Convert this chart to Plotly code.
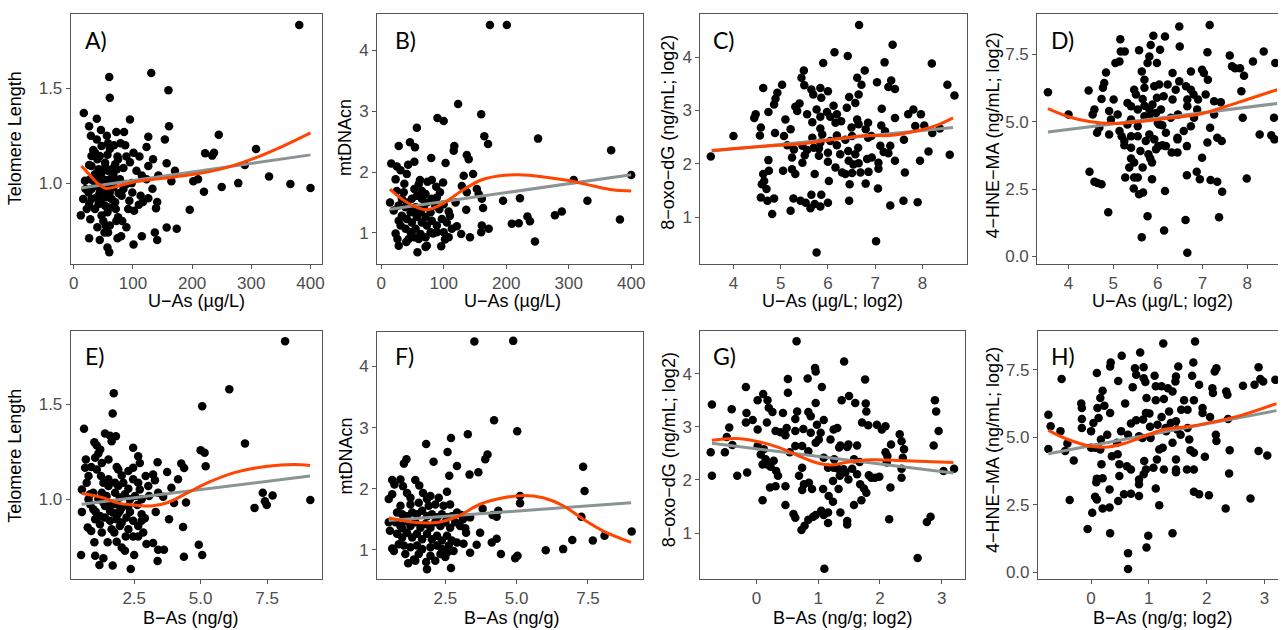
import plotly.graph_objects as go

W, H = 1281, 630

# ---------------- data ----------------
A_x = [381,131,60,61,160,17,39,95,161,26,
       46,72,85,29,56,245,126,154,39,58,
       87,123,308,68,33,101,36,222,237,234,
       111,89,57,40,134,74,157,289,95,26,
       70,106,84,171,126,115,123,143,165,202,
       210,330,278,366,400,250,220,133,99,76,
       113,126,94,141,117,110,139,196,92,102,
       12,22,28,75,72,82,89,54,40,157,
       174,58,137,115,80,26,44,141,74,101,
       57,60,52,
       30,42,47,53,58,64,67,73,36,28,
       33,42,50,56,61,70,78,19,39,47,
       57,67,30,25,44,53,61,39,47,56,
       64,30,42,53,61,70,36,57,47,81,
       84,89,98,75,53,44,61,47,79,30,
       16,20,26,71,50,61]
A_y = [1.834,1.58,1.56,1.45,1.49,1.37,1.34,1.335,1.30,1.30,
       1.28,1.27,1.27,1.25,1.25,1.255,1.245,1.23,1.23,1.21,
       1.20,1.19,1.18,1.20,1.175,1.16,1.16,1.157,1.16,1.145,
       1.14,1.14,1.15,1.126,1.126,1.14,1.105,1.096,1.11,1.095,
       1.10,1.065,1.08,1.065,1.09,1.04,1.02,1.04,1.01,1.01,
       1.02,1.035,1.0,0.995,0.974,0.98,0.955,0.97,0.95,0.946,
       0.934,0.92,0.907,0.90,0.90,0.886,0.867,0.86,0.864,0.855,
       0.83,0.864,0.81,0.82,0.80,0.80,0.767,0.776,0.767,0.766,
       0.76,0.74,0.74,0.72,0.72,0.71,0.70,0.70,0.71,0.677,
       0.66,0.636,0.74,
       1.09,1.073,1.056,1.082,1.065,1.073,1.047,1.073,1.047,1.02,
       1.012,1.02,1.02,1.012,1.02,1.012,1.02,1.012,0.986,0.986,
       0.986,0.977,0.969,0.951,0.951,0.96,0.951,0.925,0.916,0.925,
       0.916,0.916,0.89,0.881,0.872,0.899,0.864,0.846,0.829,0.934,
       0.969,0.995,1.0,1.126,1.108,1.143,1.18,1.196,1.21,1.143,
       0.916,0.969,0.89,0.864,0.80,0.776]

B_x = [174,201,123,90,100,160,57,165,251,171,
       46,28,54,117,116,368,137,140,80,53,
       103,16,25,43,31,41,147,132,400,23,
       308,62,81,37,129,99,60,74,88,25,
       153,156,137,161,195,222,330,14,119,100,
       163,136,49,68,93,108,289,278,234,382,
       238,209,220,121,113,161,172,160,100,128,
       108,142,102,246,96,40,28,73,58,71,
       23,83,
       33,41,49,57,65,73,81,39,47,55,
       63,71,79,33,41,49,57,65,73,81,
       89,31,39,47,55,63,71,79,53,44,
       28,20,28,36,53,65,71,89,94,86,
       97,105,110,89,60,52,68,26]
B_y = [4.42,4.42,3.12,2.89,2.84,2.95,2.73,2.59,2.55,2.46,
       2.49,2.43,2.41,2.43,2.35,2.36,2.28,2.21,2.23,2.17,
       2.15,2.14,2.09,2.12,2.03,1.97,1.97,1.94,1.95,1.88,
       1.87,1.87,1.87,1.81,1.77,1.83,1.80,1.84,1.76,1.69,
       1.72,1.64,1.67,1.56,1.53,1.57,1.53,1.50,1.50,1.47,
       1.41,1.38,1.39,1.42,1.39,1.35,1.35,1.29,1.27,1.22,
       1.19,1.15,1.16,1.11,1.07,1.12,1.07,1.01,1.01,0.98,
       0.93,0.93,0.89,0.86,0.78,0.85,0.79,0.79,0.68,0.77,
       0.99,0.99,
       1.56,1.50,1.56,1.61,1.56,1.50,1.56,1.42,1.34,1.42,
       1.34,1.26,1.34,1.28,1.23,1.17,1.26,1.17,1.12,1.20,
       1.12,1.12,1.07,1.01,1.07,0.98,0.93,1.01,0.93,0.90,
       1.20,1.37,1.45,1.67,1.72,1.69,1.64,1.58,1.67,1.45,
       1.23,1.17,1.28,1.01,0.90,1.34,1.42,0.90]

C_x = [3.52,4.0,6.66,6.14,6.42,7.37,5.9,7.2,8.2,5.49,
       6.78,5.44,6.62,7.34,7.04,8.53,5.03,5.5,4.63,5.65,
       5.84,6.71,7.28,7.42,6.0,5.69,6.65,8.68,4.93,5.86,
       6.45,4.89,5.40,6.58,4.86,6.12,5.31,5.76,7.14,6.4,
       7.81,4.74,5.35,7.7,7.97,5.56,5.98,6.05,5.84,6.19,
       4.47,4.44,7.42,5.1,6.62,6.28,5.67,6.16,6.85,7.13,
       6.65,7.85,8.04,4.58,5.21,5.84,6.5,6.8,8.37,8.21,
       7.21,4.88,4.56,5.88,6.19,6.51,5.07,6.92,5.67,6.85,
       6.37,7.61,6.05,5.84,5.14,6.19,5.46,7.11,7.32,5.7,
       6.64,5.28,5.56,5.81,6.43,7.18,8.13,6.0,6.58,6.26,
       7.28,8.58,5.51,5.81,5.24,6.93,6.83,4.74,6.44,6.0,
       7.07,7.42,7.95,5.46,6.54,6.65,5.05,4.75,5.24,6.16,
       7.07,5.31,4.63,5.72,6.37,6.51,6.69,6.02,6.3,6.86,
       7.63,4.65,6.46,6.8,4.6,4.7,7.06,4.58,4.86,4.72,
       5.27,5.42,5.65,5.86,6.45,7.6,7.9,5.53,5.72,6.0,
       5.63,5.84,7.32,5.21,4.82,7.02,5.76]
C_y = [2.14,2.52,4.6,4.09,4.02,4.23,3.89,3.90,3.88,3.75,
       3.75,3.61,3.61,3.56,3.53,3.48,3.48,3.47,3.42,3.39,
       3.42,3.48,3.44,3.40,3.36,3.30,3.30,3.28,3.33,3.24,
       3.25,3.22,3.13,3.14,3.11,3.09,3.07,3.02,3.03,3.05,
       3.02,2.97,2.99,2.93,2.93,2.93,2.97,2.88,2.88,2.93,
       2.93,2.86,2.86,2.83,2.83,2.80,2.78,2.77,2.77,2.72,
       2.74,2.71,2.72,2.68,2.65,2.66,2.68,2.65,2.66,2.58,
       2.61,2.58,2.53,2.55,2.53,2.52,2.52,2.52,2.49,2.49,
       2.45,2.45,2.43,2.40,2.35,2.35,2.34,2.34,2.34,2.30,
       2.30,2.27,2.26,2.29,2.24,2.22,2.23,2.21,2.18,2.18,
       2.20,2.17,2.16,2.15,2.12,2.12,2.09,2.07,2.06,2.04,
       2.02,2.06,2.06,2.02,1.99,2.01,1.87,1.87,1.90,1.93,
       1.91,1.81,1.81,1.81,1.81,1.83,1.84,1.68,1.84,1.85,
       1.84,1.68,1.62,1.63,1.62,1.53,1.54,1.37,1.35,1.31,
       1.35,1.31,1.42,1.42,1.31,1.31,1.28,1.27,1.25,1.27,
       1.17,1.20,1.22,1.12,1.06,0.55,0.34]

D_x = [3.54,4.0,4.45,5.16,5.14,5.05,5.26,5.17,5.58,5.81,
       5.77,5.98,5.9,6.16,6.48,7.16,5.84,6.49,6.05,7.11,
       7.61,8.37,8.63,8.13,7.66,7.73,7.84,7.93,6.99,7.03,
       6.74,7.12,6.33,6.22,5.64,5.7,4.84,4.8,4.77,6.48,
       6.63,5.47,5.51,6.03,6.4,5.98,6.74,6.8,7.87,7.07,
       4.74,5.01,5.32,5.66,6.33,6.66,6.9,7.26,7.41,4.58,
       4.91,5.1,5.7,5.81,5.4,4.54,6.07,5.81,6.45,7.26,
       7.9,8.6,6.81,6.1,4.69,5.14,5.32,5.55,6.03,6.74,
       4.64,4.91,6.18,6.44,7.17,5.19,5.25,5.73,6.44,7.33,
       7.43,8.28,8.54,8.61,7.11,6.01,6.1,6.65,5.25,5.4,
       5.96,6.31,6.44,5.61,5.79,5.83,6.99,5.4,5.47,5.87,
       5.36,5.66,4.47,4.58,4.65,4.74,5.27,5.47,5.55,6.65,
       6.87,6.94,7.18,7.33,7.99,5.87,5.46,5.58,5.67,6.16,
       7.44,4.89,5.77,7.37,6.62,6.14,5.64,6.66,5.4,5.96,
       5.55,5.88,6.0,5.55,4.95,6.29,6.66,6.88,5.4,6.18,
       5.92,5.81,5.7,6.58,6.13,5.92,5.7]
D_y = [6.09,5.26,6.15,8.05,7.23,7.17,7.6,7.6,7.64,7.41,
       7.17,7.17,8.18,8.15,8.52,8.58,7.84,7.78,7.66,7.57,
       7.45,7.6,7.17,7.23,7.05,6.98,6.98,6.7,6.92,6.8,
       6.86,6.55,6.8,6.37,6.86,6.55,6.82,6.43,6.25,6.49,
       6.31,6.18,6.0,6.37,6.18,5.88,6.18,6.0,6.12,6.0,
       5.84,5.82,5.69,5.84,5.82,5.82,5.82,5.75,5.72,5.45,
       5.39,5.26,5.59,5.45,5.08,5.26,5.45,5.18,5.26,5.26,
       5.14,5.14,5.14,4.86,4.77,4.65,4.89,4.83,4.89,4.83,
       4.59,4.52,4.59,4.4,4.77,4.46,4.28,4.28,4.34,4.4,
       4.28,4.52,4.49,4.34,4.22,4.09,4.12,4.09,4.12,4.03,
       3.97,3.85,3.85,3.91,3.79,3.63,3.66,3.63,3.48,3.48,
       3.3,3.3,3.14,2.77,2.72,2.68,2.93,2.93,2.93,3.01,
       3.14,2.86,2.83,2.77,2.89,2.86,2.52,2.31,2.37,2.43,
       2.4,1.64,1.49,1.45,1.35,0.96,0.71,0.14,5.57,5.32,
       5.45,5.63,4.95,4.46,5.08,5.14,5.57,5.45,4.46,4.09,
       4.34,4.52,5.2,4.65,5.94,6.31,6.25]

E_x = [8.18,6.08,5.06,1.73,1.69,0.61,1.4,1.59,1.81,1.0,
       1.65,6.67,1.09,2.46,1.22,5.0,5.15,1.15,2.65,1.03,
       0.68,2.71,4.27,1.84,5.19,0.88,1.9,4.38,0.65,3.38,
       2.93,3.74,3.21,1.25,2.03,2.46,4.15,3.28,2.65,1.78,
       0.53,3.9,1.53,2.28,3.4,3.59,3.06,0.84,0.96,7.34,
       7.71,4.0,4.45,7.42,7.49,7.03,9.13,2.62,1.34,1.65,
       2.03,2.34,0.53,3.31,1.05,1.9,2.78,2.9,3.81,4.34,
       1.03,0.75,0.88,1.21,2.03,1.75,2.65,2.46,2.65,2.18,
       1.0,1.5,1.84,2.96,3.21,4.93,2.03,3.4,3.62,2.15,
       0.5,1.03,2.5,5.06,4.37,1.34,3.38,1.19,1.69,2.37,
       1.28,1.46,1.15,1.4,1.59,1.78,1.96,2.15,2.34,2.53,
       2.78,0.84,0.96,1.21,1.4,1.59,1.84,2.21,2.46,2.78,
       1.71,1.96,1.84,2.28,1.53,1.34,1.9,2.09,2.28,2.46,
       1.09,1.28,1.53,2.71,3.03,0.71,0.78,1.96,1.65,2.28,
       2.84,1.28,1.5,0.78]
E_y = [1.83,1.578,1.488,1.557,1.45,1.37,1.345,1.334,1.331,1.30,
       1.305,1.293,1.282,1.27,1.261,1.258,1.244,1.24,1.226,1.218,
       1.209,1.19,1.188,1.17,1.174,1.17,1.157,1.164,1.166,1.195,
       1.122,1.143,1.13,1.122,1.125,1.105,1.105,1.10,1.087,1.087,
       1.052,1.061,1.07,1.056,1.035,1.014,1.017,1.026,1.035,1.035,
       1.02,0.98,0.983,0.99,0.97,0.955,0.996,0.97,0.983,0.974,
       0.956,0.934,0.934,0.934,0.934,0.927,0.922,0.9,0.895,0.855,
       0.895,0.852,0.834,0.869,0.878,0.826,0.86,0.805,0.805,0.805,
       0.774,0.774,0.777,0.765,0.77,0.761,0.747,0.735,0.735,0.73,
       0.707,0.704,0.707,0.707,0.699,0.69,0.676,0.655,0.652,0.634,
       1.035,1.017,1.0,0.965,0.939,1.035,1.009,1.026,1.0,1.017,
       1.0,0.974,0.948,0.913,0.904,0.887,0.895,0.904,0.887,0.887,
       0.93,0.939,0.974,0.965,1.105,1.087,1.07,1.087,1.148,1.166,
       1.157,1.19,1.209,1.052,1.07,1.087,1.122,0.86,0.843,0.843,
       0.826,0.826,0.974,1.0]

F_x = [3.52,4.88,4.21,5.02,3.29,2.7,1.83,2.58,3.98,3.9,
       1.14,1.05,2.09,2.91,7.33,3.66,3.35,2.64,0.93,0.64,
       1.45,0.72,1.59,1.02,2.56,7.38,1.16,1.72,0.64,5.12,
       1.98,2.27,1.28,5.12,0.52,2.67,3.81,1.92,4.36,7.27,
       4.16,4.3,3.06,3.37,0.52,0.56,0.99,3.72,3.23,9.03,
       8.08,6.95,7.67,4.3,4.13,3.6,3.14,0.64,0.7,4.45,
       3.37,6.02,6.63,5.03,4.95,1.2,1.4,1.45,1.83,2.15,
       1.86,2.7,2.56,2.5,
       0.81,0.99,1.16,1.34,1.51,1.69,1.86,2.03,2.21,2.38,
       2.56,2.73,0.76,0.93,1.1,1.28,1.45,1.63,1.8,1.98,
       2.15,2.33,2.5,2.67,2.85,3.02,0.81,0.99,1.16,1.34,
       1.51,1.69,1.86,2.03,2.21,2.38,2.56,2.73,2.91,0.87,
       1.05,1.28,1.51,1.69,1.98,2.21,2.38,2.62,2.79,1.1,
       1.57,1.98,2.33,0.93,1.28,1.57,1.86,2.15,2.44,2.91,
       3.12,3.2]
F_y = [4.41,4.42,3.12,2.94,2.89,2.83,2.73,2.60,2.56,2.48,
       2.48,2.41,2.44,2.37,2.36,2.27,2.23,2.21,2.15,2.14,
       2.14,2.07,2.05,2.04,1.95,1.96,1.93,1.93,1.91,1.88,
       1.88,1.85,1.85,1.76,1.83,1.74,1.67,1.72,1.64,1.54,
       1.57,1.54,1.57,1.53,1.45,1.31,1.35,1.28,1.28,1.30,
       1.23,1.16,1.15,1.18,1.12,1.08,1.10,1.02,0.98,0.93,
       0.95,0.99,1.01,0.90,0.86,0.78,0.84,0.82,0.80,0.82,
       0.68,0.70,0.95,0.88,
       1.61,1.58,1.55,1.61,1.58,1.64,1.55,1.58,1.53,1.58,
       1.53,1.55,1.45,1.39,1.47,1.39,1.45,1.36,1.42,1.36,
       1.45,1.39,1.45,1.36,1.45,1.39,1.26,1.2,1.28,1.2,
       1.26,1.17,1.26,1.17,1.23,1.15,1.23,1.15,1.12,1.09,
       1.07,1.04,1.07,1.01,1.04,1.07,1.01,1.07,0.98,0.93,
       0.93,0.90,0.93,1.72,1.74,1.77,1.83,1.74,1.72,1.61,
       1.50,1.35]

G_x = [0.65,1.42,0.95,0.96,0.51,0.83,1.76,-0.17,1.06,0.51,
       0.11,1.5,1.38,0.02,0.18,-0.72,1.6,2.89,0.96,1.77,
       2.91,0.2,0.26,-0.4,0.84,0.66,1.78,-0.16,0.43,0.88,
       1.09,-0.06,-0.17,1.71,1.81,0.17,0.63,0.98,1.95,2.09,
       2.03,-0.44,0.02,0.49,0.76,1.25,1.31,2.95,0.31,0.39,
       0.63,0.88,1.04,0.47,2.32,1.2,2.35,-0.48,1.01,0.96,
       2.87,1.36,1.49,1.63,2.18,0.63,0.74,0.02,-0.39,2.39,
       1.34,1.47,-0.74,-0.51,0.12,0.54,0.84,2.09,2.12,0.15,
       0.07,1.09,1.58,1.67,2.37,0.28,1.26,0.1,0.18,0.23,
       2.11,0.74,1.16,1.25,1.32,1.41,1.55,2.35,3.2,3.03,
       0.32,-0.15,1.44,1.63,1.82,-0.31,-0.72,0.35,0.69,1.35,
       1.86,1.92,1.99,2.35,1.49,0.85,1.24,0.77,1.68,0.31,
       0.47,2.17,0.22,0.9,0.74,1.08,1.33,1.74,1.78,1.17,
       0.1,1.7,1.24,1.58,0.47,1.05,1.16,1.36,0.6,0.63,
       0.96,0.92,1.09,0.84,2.15,2.82,2.76,0.78,0.73,1.47,
       1.47,1.16,2.61,1.1]
G_y = [4.61,4.23,4.11,4.04,3.9,3.91,3.89,3.75,3.75,3.64,
       3.62,3.58,3.5,3.5,3.5,3.42,3.45,3.5,3.45,3.44,
       3.29,3.36,3.28,3.33,3.28,3.29,3.29,3.26,3.26,3.2,
       3.13,3.13,3.08,3.08,3.03,3.08,3.15,3.04,3.04,3.01,
       2.95,2.99,2.95,2.98,2.96,2.95,2.98,2.92,2.92,2.9,
       2.92,2.89,2.89,2.84,2.86,2.76,2.73,2.81,2.76,2.7,
       2.65,2.65,2.67,2.65,2.67,2.64,2.64,2.64,2.66,2.58,
       2.61,2.62,2.52,2.52,2.58,2.52,2.54,2.52,2.45,2.39,
       2.48,2.42,2.39,2.34,2.42,2.36,2.39,2.29,2.29,2.25,
       2.33,2.23,2.23,2.23,2.21,2.2,2.21,2.21,2.21,2.17,
       2.17,2.14,2.14,2.11,2.09,2.08,2.08,2.08,2.08,2.08,
       2.04,2.04,2.06,2.04,2.01,1.95,1.98,1.92,1.92,1.88,
       1.88,1.86,1.86,1.83,1.81,1.83,1.83,1.84,1.76,1.7,
       1.62,1.62,1.59,1.53,1.53,1.42,1.39,1.39,1.36,1.29,
       1.34,1.31,1.34,1.25,1.26,1.31,1.21,1.14,1.06,1.23,
       1.16,1.19,0.53,0.33]

H_x = [1.8,1.25,0.85,0.53,0.34,0.33,1.77,-0.51,0.1,0.76,
       0.91,1.51,2.17,2.14,2.9,0.78,1.1,1.47,1.75,0.91,
       0.94,0.47,1.46,2.93,2.98,2.83,3.19,2.63,1.87,0.72,
       1.12,1.22,1.33,2.1,2.34,2.36,0.2,1.41,2.11,0.96,
       0.16,0.59,1.26,1.12,1.61,1.78,1.56,1.67,1.93,-0.17,
       -0.16,0.11,0.23,-0.74,0.33,0.95,1.01,1.35,1.93,1.22,
       2.06,2.37,-0.16,0.13,0.9,0.78,1.47,-0.7,-0.16,0.04,
       0.69,1.02,-0.53,0.0,0.52,0.64,0.28,2.16,2.17,0.83,
       1.3,1.49,1.55,1.7,0.17,0.45,1.03,0.89,-0.41,-0.74,
       -0.45,0.0,0.07,0.16,1.18,1.24,1.41,1.72,1.78,2.9,
       3.05,2.4,-0.3,0.36,0.46,0.49,1.14,1.47,1.97,0.92,
       0.18,0.62,0.69,0.95,1.08,1.26,1.47,1.66,1.78,1.47,
       0.49,0.1,0.2,0.83,0.91,2.39,0.09,0.83,1.12,0.32,
       0.57,0.69,0.83,1.78,1.87,2.04,0.07,0.1,-0.37,0.47,
       0.2,0.32,1.18,2.76,2.33,0.02,-0.06,0.33,1.41,0.99,
       0.96,0.64,0.64,1.29,1.38,1.15,1.67]
H_y = [8.55,8.48,8.14,8.02,7.77,7.62,7.77,7.16,7.38,7.56,
       7.6,7.62,7.56,7.44,7.6,7.32,7.28,7.25,7.28,7.19,
       7.05,7.09,7.07,7.16,7.07,6.95,7.13,6.91,6.95,6.86,
       6.89,6.89,6.82,6.82,6.7,6.58,6.73,6.7,6.64,6.46,
       6.46,6.25,6.42,6.37,6.37,6.37,6.02,6.02,6.09,6.25,
       6.09,6.09,6.17,5.84,5.9,5.9,5.88,5.96,5.9,5.75,
       5.75,5.68,5.68,5.72,5.66,5.63,5.6,5.41,5.35,5.53,
       5.51,5.39,5.23,5.23,5.23,5.1,5.1,5.1,4.86,5.04,
       5.23,5.29,5.1,4.92,4.92,4.8,4.98,4.98,4.77,4.57,
       4.49,4.61,4.61,4.55,4.55,4.61,4.8,4.52,4.43,4.49,
       4.33,4.52,4.14,4.3,4.37,4.0,4.18,4.18,4.28,4.12,
       4.0,3.93,3.81,3.81,3.87,3.81,3.81,3.81,3.81,3.71,
       3.57,3.47,3.48,3.44,3.63,3.66,3.34,3.26,3.1,3.07,
       2.89,2.91,2.83,2.98,2.89,2.85,2.8,2.7,2.68,2.64,
       2.36,2.4,2.48,2.73,2.36,2.21,1.6,1.45,1.45,1.35,
       0.92,0.71,0.12,5.35,5.53,5.47,5.35]

# fitted lines (linear, grey) and smooth fits (orange)
A_lin_x = [13, 400]; A_lin_y = [0.974, 1.149]
A_fit_x = [13, 25, 40, 55, 75, 100, 150, 200, 250, 300, 350, 400]
A_fit_y = [1.09, 1.05, 1.0, 0.972, 0.985, 1.005, 1.025, 1.045, 1.075, 1.125, 1.19, 1.265]
B_lin_x = [14, 400]; B_lin_y = [1.39, 1.955]
B_fit_x = [14, 30, 50, 73, 100, 130, 160, 190, 220, 260, 300, 340, 370, 400]
B_fit_y = [1.72, 1.58, 1.45, 1.38, 1.49, 1.70, 1.87, 1.94, 1.955, 1.92, 1.86, 1.77, 1.71, 1.69]
C_lin_x = [3.54, 8.65]; C_lin_y = [2.24, 2.68]
C_fit_x = [3.54, 4.5, 5.5, 6.3, 6.8, 7.3, 7.8, 8.3, 8.65]
C_fit_y = [2.25, 2.32, 2.38, 2.48, 2.53, 2.53, 2.6, 2.72, 2.86]
D_lin_x = [3.54, 8.67]; D_lin_y = [4.61, 5.67]
D_fit_x = [3.54, 4.0, 4.5, 5.0, 5.5, 6.0, 6.5, 7.0, 7.5, 8.0, 8.67]
D_fit_y = [5.48, 5.18, 4.99, 4.93, 4.98, 5.08, 5.17, 5.3, 5.55, 5.82, 6.18]
E_lin_x = [0.52, 9.12]; E_lin_y = [0.974, 1.122]
E_fit_x = [0.52, 1.28, 1.9, 2.52, 3.15, 3.77, 4.52, 5.27, 6.27, 7.52, 8.52, 9.12]
E_fit_y = [1.03, 1.01, 0.98, 0.97, 0.965, 0.983, 1.035, 1.087, 1.14, 1.174, 1.183, 1.178]
F_lin_x = [0.52, 9.01]; F_lin_y = [1.48, 1.77]
F_fit_x = [0.52, 1.4, 2.2, 2.9, 3.72, 4.53, 5.23, 5.93, 6.63, 7.33, 8.02, 9.01]
F_fit_y = [1.52, 1.45, 1.445, 1.54, 1.745, 1.85, 1.89, 1.85, 1.72, 1.5, 1.31, 1.12]
G_lin_x = [-0.72, 3.19]; G_lin_y = [2.69, 2.13]
G_fit_x = [-0.72, -0.33, -0.01, 0.37, 0.69, 0.96, 1.23, 1.44, 1.87, 2.41, 3.19]
G_fit_y = [2.75, 2.78, 2.73, 2.61, 2.45, 2.33, 2.28, 2.33, 2.38, 2.36, 2.33]
H_lin_x = [-0.74, 3.21]; H_lin_y = [4.39, 5.99]
H_fit_x = [-0.74, -0.4, 0.0, 0.29, 0.57, 0.92, 1.26, 1.72, 2.18, 2.64, 3.21]
H_fit_y = [5.26, 4.92, 4.67, 4.64, 4.77, 5.04, 5.29, 5.41, 5.6, 5.84, 6.25]

# tick values / labels
ticks_uas_x = [0, 100, 200, 300, 400]
ticks_log_uas_x = [4, 5, 6, 7, 8]
ticks_bas_x = [2.5, 5.0, 7.5]; ticks_bas_txt = ["2.5", "5.0", "7.5"]
ticks_log_bas_x = [0, 1, 2, 3]
ticks_tl_y = [1.0, 1.5]; ticks_tl_txt = ["1.0", "1.5"]
ticks_mt_y = [1, 2, 3, 4]
ticks_ox_y = [1, 2, 3, 4]
ticks_hne_y = [0.0, 2.5, 5.0, 7.5]; ticks_hne_txt = ["0.0", "2.5", "5.0", "7.5"]

panel_labels = ["A)", "B)", "C)", "D)", "E)", "F)", "G)", "H)"]
x_titles = ["U\u2212As (\u00b5g/L)", "U\u2212As (\u00b5g/L)", "U\u2212As (\u00b5g/L; log2)", "U\u2212As (\u00b5g/L; log2)",
            "B\u2212As (ng/g)", "B\u2212As (ng/g)", "B\u2212As (ng/g; log2)", "B\u2212As (ng/g; log2)"]
y_titles = ["Telomere Length", "mtDNAcn", "8\u2212oxo\u2212dG (ng/mL; log2)", "4\u2212HNE\u2212MA (ng/mL; log2)",
            "Telomere Length", "mtDNAcn", "8\u2212oxo\u2212dG (ng/mL; log2)", "4\u2212HNE\u2212MA (ng/mL; log2)"]

# ---------------- layout geometry (pixels) ----------------
panels = [
    dict(x=A_x, y=A_y, lx=A_lin_x, ly=A_lin_y, fx=A_fit_x, fy=A_fit_y, px=(69, 321), py=(14, 265),
         xr=(-5.06, 419), yr=(0.575, 1.892), xt=ticks_uas_x, xtt=[str(v) for v in ticks_uas_x],
         yt=ticks_tl_y, ytt=ticks_tl_txt, ytc=(13, 139), xtc=(195, 302), lab=(81, 24), clip=False),
    dict(x=B_x, y=B_y, lx=B_lin_x, ly=B_lin_y, fx=B_fit_x, fy=B_fit_y, px=(376.7, 643.3), py=(14, 265),
         xr=(-6.4, 418.6), yr=(0.493, 4.6), xt=ticks_uas_x, xtt=[str(v) for v in ticks_uas_x],
         yt=ticks_mt_y, ytt=[str(v) for v in ticks_mt_y], ytc=(345, 138), xtc=(512, 302), lab=(393, 24), clip=False),
    dict(x=C_x, y=C_y, lx=C_lin_x, ly=C_lin_y, fx=C_fit_x, fy=C_fit_y, px=(701, 968.3), py=(14, 265),
         xr=(3.297, 8.935), yr=(0.13, 4.807), xt=ticks_log_uas_x, xtt=[str(v) for v in ticks_log_uas_x],
         yt=ticks_ox_y, ytt=[str(v) for v in ticks_ox_y], ytc=(669, 133), xtc=(834, 302), lab=(712, 24), clip=False),
    dict(x=D_x, y=D_y, lx=D_lin_x, ly=D_lin_y, fx=D_fit_x, fy=D_fit_y, px=(1039.3, 1281), py=(14, 265),
         xr=(3.30, 8.69), yr=(-0.27, 8.99), xt=ticks_log_uas_x, xtt=[str(v) for v in ticks_log_uas_x],
         yt=ticks_hne_y, ytt=ticks_hne_txt, ytc=(995, 136), xtc=(1165, 302), lab=(1051, 24), clip=True),
    dict(x=E_x, y=E_y, lx=E_lin_x, ly=E_lin_y, fx=E_fit_x, fy=E_fit_y, px=(69, 321), py=(332.3, 581.7),
         xr=(0.11, 9.56), yr=(0.582, 1.885), xt=ticks_bas_x, xtt=ticks_bas_txt,
         yt=ticks_tl_y, ytt=ticks_tl_txt, ytc=(13, 458), xtc=(190, 621), lab=(81, 342), clip=False),
    dict(x=F_x, y=F_y, lx=F_lin_x, ly=F_lin_y, fx=F_fit_x, fy=F_fit_y, px=(376.7, 643.3), py=(333.3, 581.7),
         xr=(0.116, 9.42), yr=(0.522, 4.57), xt=ticks_bas_x, xtt=ticks_bas_txt,
         yt=ticks_mt_y, ytt=[str(v) for v in ticks_mt_y], ytc=(345, 458), xtc=(512, 621), lab=(393, 342), clip=False),
    dict(x=G_x, y=G_y, lx=G_lin_x, ly=G_lin_y, fx=G_fit_x, fy=G_fit_y, px=(701, 966.7), py=(332.3, 581.7),
         xr=(-0.909, 3.376), yr=(0.1375, 4.81), xt=ticks_log_bas_x, xtt=[str(v) for v in ticks_log_bas_x],
         yt=ticks_ox_y, ytt=[str(v) for v in ticks_ox_y], ytc=(669, 452), xtc=(844, 621), lab=(712, 342), clip=False),
    dict(x=H_x, y=H_y, lx=H_lin_x, ly=H_lin_y, fx=H_fit_x, fy=H_fit_y, px=(1040, 1281), py=(332.3, 581.7),
         xr=(-0.92, 3.236), yr=(-0.246, 8.95), xt=ticks_log_bas_x, xtt=[str(v) for v in ticks_log_bas_x],
         yt=ticks_hne_y, ytt=ticks_hne_txt, ytc=(995, 452), xtc=(1166, 621), lab=(1051, 342), clip=True),
]

FRAME = "#555555"
TICKFONT = dict(family="Liberation Sans, Arial, sans-serif", size=17, color="#4d4d4d")
TITLEFONT = dict(family="Liberation Sans, Arial, sans-serif", size=18, color="#000000")
LABELFONT = dict(family="Lato, Carlito, sans-serif", size=23, color="#000000")

fig = go.Figure()
layout = dict(width=W, height=H, margin=dict(l=0, r=0, t=0, b=0), showlegend=False,
              paper_bgcolor="white", plot_bgcolor="white")
annotations = []

for i, p in enumerate(panels):
    k = "" if i == 0 else str(i + 1)
    xa, ya = "x" + k, "y" + k
    n = min(len(p["x"]), len(p["y"]))
    fig.add_trace(go.Scatter(x=p["x"][:n], y=p["y"][:n], mode="markers", xaxis=xa, yaxis=ya,
                             marker=dict(color="black", size=8.5, line=dict(width=0)), hoverinfo="skip"))
    fig.add_trace(go.Scatter(x=p["lx"], y=p["ly"], mode="lines", xaxis=xa, yaxis=ya,
                             line=dict(color="#8a9494", width=3), hoverinfo="skip"))
    fig.add_trace(go.Scatter(x=p["fx"], y=p["fy"], mode="lines", xaxis=xa, yaxis=ya,
                             line=dict(color="#ff4500", width=3, shape="spline", smoothing=1.0), hoverinfo="skip"))
    x0, x1 = p["px"]
    y0, y1 = p["py"]
    layout["xaxis" + k] = dict(domain=[x0 / W, x1 / W], range=list(p["xr"]), anchor=ya,
                               showgrid=False, zeroline=False, showline=True, linecolor=FRAME, linewidth=1,
                               mirror=True, ticks="outside", ticklen=4, tickcolor=FRAME, tickwidth=1,
                               tickvals=p["xt"], ticktext=p["xtt"], tickfont=TICKFONT)
    layout["yaxis" + k] = dict(domain=[1 - y1 / H, 1 - y0 / H], range=list(p["yr"]), anchor=xa,
                               showgrid=False, zeroline=False, showline=True, linecolor=FRAME, linewidth=1,
                               mirror=(not p["clip"]), ticks="outside", ticklen=4, tickcolor=FRAME, tickwidth=1,
                               tickvals=p["yt"], ticktext=p["ytt"], tickfont=TICKFONT)
    annotations.append(dict(text=panel_labels[i], xref="paper", yref="paper", x=p["lab"][0] / W,
                            y=1 - p["lab"][1] / H, xanchor="left", yanchor="top", showarrow=False, font=LABELFONT))
    annotations.append(dict(text=y_titles[i], xref="paper", yref="paper", x=p["ytc"][0] / W,
                            y=1 - p["ytc"][1] / H, xanchor="center", yanchor="middle", textangle=-90,
                            showarrow=False, font=TITLEFONT))
    annotations.append(dict(text=x_titles[i], xref="paper", yref="paper", x=p["xtc"][0] / W,
                            y=1 - p["xtc"][1] / H, xanchor="center", yanchor="middle",
                            showarrow=False, font=TITLEFONT))

layout["annotations"] = annotations
fig.update_layout(**layout)

fig.write_html("out.html", config={"displayModeBar": False},
               post_script="document.body.style.margin='0px';document.body.style.overflow='hidden';")
